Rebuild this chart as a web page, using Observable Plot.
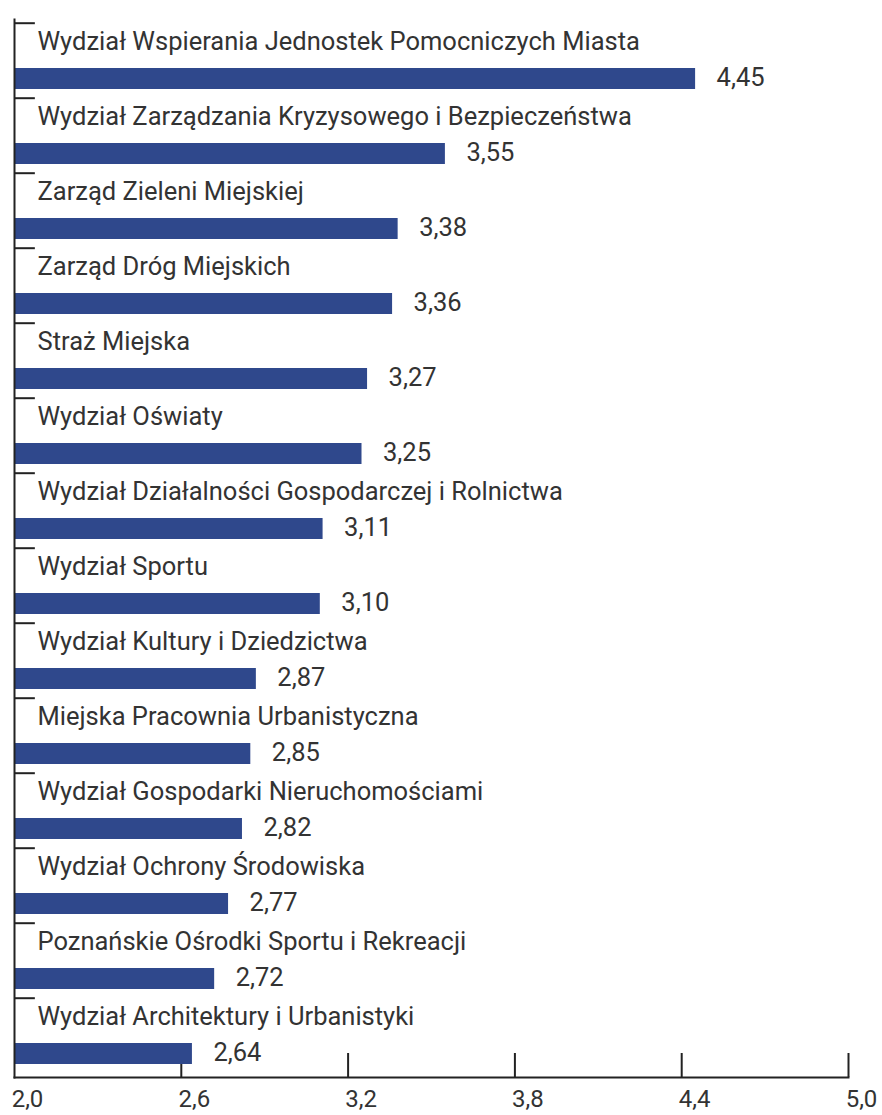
<!DOCTYPE html>
<html>
<head>
<meta charset="utf-8">
<script src="https://cdn.jsdelivr.net/npm/d3@7"></script>
<script src="https://cdn.jsdelivr.net/npm/@observablehq/plot@0.6"></script>
<style>
  html, body { margin: 0; padding: 0; background: #fff; }
  svg { display: block; }
</style>
</head>
<body>
<div id="chart"></div>
<script>
const categories = [
  "Wydział Wspierania Jednostek Pomocniczych Miasta",
  "Wydział Zarządzania Kryzysowego i Bezpieczeństwa",
  "Zarząd Zieleni Miejskiej",
  "Zarząd Dróg Miejskich",
  "Straż Miejska",
  "Wydział Oświaty",
  "Wydział Działalności Gospodarczej i Rolnictwa",
  "Wydział Sportu",
  "Wydział Kultury i Dziedzictwa",
  "Miejska Pracownia Urbanistyczna",
  "Wydział Gospodarki Nieruchomościami",
  "Wydział Ochrony Środowiska",
  "Poznańskie Ośrodki Sportu i Rekreacji",
  "Wydział Architektury i Urbanistyki"
];
const values = [4.45, 3.55, 3.38, 3.36, 3.27, 3.25, 3.11, 3.10, 2.87, 2.85, 2.82, 2.77, 2.72, 2.64];
const xTicks = [2.0, 2.6, 3.2, 3.8, 4.4, 5.0];

const data = categories.map((name, i) => ({name, value: values[i]}));
const fmt2 = v => v.toFixed(2).replace(".", ",");
const fmt1 = v => v.toFixed(1).replace(".", ",");

const FONT = "Roboto, 'Noto Sans', sans-serif";
const TEXT = "#333333";
const BAR = "#2f488c";

const chart = Plot.plot({
  width: 882,
  height: 1115,
  marginTop: 19,
  marginBottom: 38,
  marginLeft: 14,
  marginRight: 34,
  style: {fontFamily: FONT, color: TEXT, background: "#fff"},
  x: {domain: [2.0, 5.0], axis: null},
  y: {domain: categories, padding: 0, axis: null},
  marks: [
    Plot.text(xTicks, {x: d => d, frameAnchor: "bottom", lineAnchor: "middle", text: d => fmt1(d), dx: 13, dy: 22, fontSize: 24, fill: TEXT}),
    Plot.ruleX(xTicks.slice(1), {stroke: "#222", strokeWidth: 2, insetTop: 1034}),
    Plot.barX(data, {y: "name", x1: 2.0, x2: "value", fill: BAR, insetTop: 45, insetBottom: 9}),
    Plot.ruleY(categories, {y: d => d, x1: 2.0, x2: 2.075, stroke: "#222", strokeWidth: 2, dy: -37.8}),
    Plot.frame({anchor: "left", stroke: "#222", strokeWidth: 2}),
    Plot.frame({anchor: "bottom", stroke: "#222", strokeWidth: 2}),
    Plot.text(data, {y: "name", x: 2.0, text: "name", dx: 23, dy: -19, textAnchor: "start", fontSize: 25.5, fill: TEXT}),
    Plot.text(data, {y: "name", x: "value", text: d => fmt2(d.value), dx: 21, dy: 17, textAnchor: "start", fontSize: 25.5, fill: TEXT})
  ]
});
document.getElementById("chart").appendChild(chart);
</script>
</body>
</html>
